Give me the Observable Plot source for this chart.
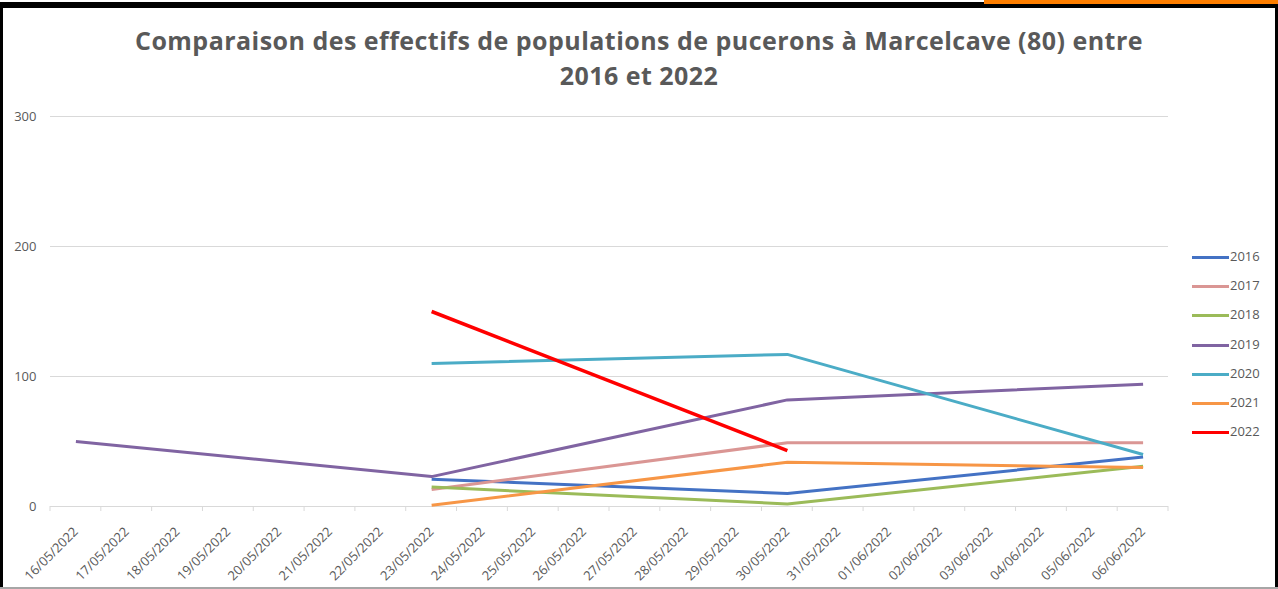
<!DOCTYPE html>
<html>
<head>
<meta charset="utf-8">
<script src="https://cdn.jsdelivr.net/npm/d3@7"></script>
<script src="https://cdn.jsdelivr.net/npm/@observablehq/plot@0.6"></script>
<style>
  html, body { margin: 0; padding: 0; background: #fff; }
  #wrap { position: relative; width: 1278px; height: 589px; overflow: hidden; background: #fff; font-family: "Open Sans", sans-serif; }
  #wrap svg { position: absolute; left: 0; top: 0; }
  .title { position: absolute; left: 0; width: 1278px; text-align: center; color: #595959; font-weight: 700; font-size: 25px; white-space: nowrap; line-height: 32px; }
  .title span { display: inline-block; }
  .leg { position: absolute; left: 1192px; height: 14px; font-size: 13px; color: #595959; }
  .leg span.sw { position: absolute; left: 0; top: 6px; width: 37px; height: 3px; }
  .leg span.tx { position: absolute; left: 38px; top: -3px; }
  .frame { position: absolute; }
</style>
</head>
<body>
<div id="wrap"></div>
<script>
// Categories (x axis)
const dates = ["16/05/2022","17/05/2022","18/05/2022","19/05/2022","20/05/2022","21/05/2022","22/05/2022","23/05/2022","24/05/2022","25/05/2022","26/05/2022","27/05/2022","28/05/2022","29/05/2022","30/05/2022","31/05/2022","01/06/2022","02/06/2022","03/06/2022","04/06/2022","05/06/2022","06/06/2022"];
// Sampling dates where counts exist
const sampleDates = ["16/05/2022","23/05/2022","30/05/2022","06/06/2022"];
const years = ["2016","2017","2018","2019","2020","2021","2022"];
const colors = ["#4472C4","#DA9694","#9BBB59","#8064A2","#4BACC6","#F79646","#FF0000"];
// Series values at sampleDates (null = no count)
const v2016 = [null, 21, 10, 38];
const v2017 = [null, 13, 49, 49];
const v2018 = [null, 15, 2, 31];
const v2019 = [50, 23, 82, 94];
const v2020 = [null, 110, 117, 40];
const v2021 = [null, 1, 34, 30];
const v2022 = [null, 150, 43, null];
const yTicks = [0, 100, 200, 300];
const titleLines = ["Comparaison des effectifs de populations de pucerons à Marcelcave (80) entre", "2016 et 2022"];

const seriesVals = [v2016, v2017, v2018, v2019, v2020, v2021, v2022];
const rows = [];
years.forEach((yr, k) => {
  seriesVals[k].forEach((v, j) => {
    if (v != null) rows.push({year: yr, idx: dates.indexOf(sampleDates[j]), value: v});
  });
});
const idxs = dates.map((d, i) => i);
const bounds = d3.range(dates.length + 1).map(i => i - 0.5);

const chart = Plot.plot({
  width: 1278,
  height: 589,
  marginLeft: 50,
  marginRight: 110,
  marginTop: 116,
  marginBottom: 83,
  style: {fontFamily: "Open Sans, sans-serif", color: "#595959", background: "transparent", overflow: "visible"},
  x: {type: "linear", domain: [-0.5, dates.length - 0.5]},
  y: {domain: [0, 300]},
  color: {domain: years, range: colors},
  marks: [
    Plot.ruleY(yTicks, {stroke: "#d9d9d9", strokeWidth: 1}),
    Plot.axisX({ticks: idxs, tickFormat: i => dates[i], tickRotate: -45, tickSize: 0, tickPadding: 23, fontSize: 13, fill: "#595959", label: null}),
    Plot.axisY({ticks: yTicks, tickSize: 0, tickPadding: 14, fontSize: 13, fill: "#595959", label: null}),
    Plot.line(rows, {x: "idx", y: "value", z: "year", stroke: "year", strokeWidth: d => d.year === "2022" ? 3.5 : 3, strokeLinejoin: "round", strokeLinecap: "butt"})
  ]
});

const wrap = document.getElementById("wrap");
wrap.appendChild(chart);

// Boundary tick marks below the axis, positioned through the chart's scales
const xs = chart.scale("x"), ys = chart.scale("y");
const svgNS = "http://www.w3.org/2000/svg";
const g = document.createElementNS(svgNS, "g");
bounds.forEach(b => {
  const l = document.createElementNS(svgNS, "line");
  const px = xs.apply(b), py = ys.apply(0);
  l.setAttribute("x1", px); l.setAttribute("x2", px);
  l.setAttribute("y1", py); l.setAttribute("y2", py + 5);
  l.setAttribute("stroke", "#d9d9d9");
  g.appendChild(l);
});
chart.appendChild(g);

// Title
const spans = [];
titleLines.forEach((t, i) => {
  const d = document.createElement("div");
  d.className = "title";
  d.style.top = (i === 0 ? 24 : 59) + "px";
  const s = document.createElement("span");
  s.textContent = t;
  d.appendChild(s);
  wrap.appendChild(d);
  spans.push(s);
});
// stretch first line to the reference's width (~1008px), same spacing for second
const w0 = spans[0].getBoundingClientRect().width;
const ls = (1008 - w0) / titleLines[0].length;
spans.forEach(s => s.style.letterSpacing = ls + "px");

// Legend
years.forEach((yr, i) => {
  const d = document.createElement("div");
  d.className = "leg";
  d.style.top = (250 + i * 29.2) + "px";
  d.innerHTML = `<span class="sw" style="background:${colors[i]}"></span><span class="tx">${yr}</span>`;
  wrap.appendChild(d);
});

// Frame
const frames = [
  {l: 0, t: 2, w: 1278, h: 6, c: "#000"},
  {l: 984, t: 0, w: 294, h: 4, c: "#FF7F00"},
  {l: 0, t: 2, w: 3, h: 587, c: "#000"},
  {l: 1275, t: 4, w: 3, h: 585, c: "#000"},
  {l: 0, t: 587, w: 1278, h: 2, c: "#a6a6a6"}
];
frames.forEach(f => {
  const d = document.createElement("div");
  d.className = "frame";
  Object.assign(d.style, {left: f.l + "px", top: f.t + "px", width: f.w + "px", height: f.h + "px", background: f.c});
  wrap.appendChild(d);
});
</script>
</body>
</html>
